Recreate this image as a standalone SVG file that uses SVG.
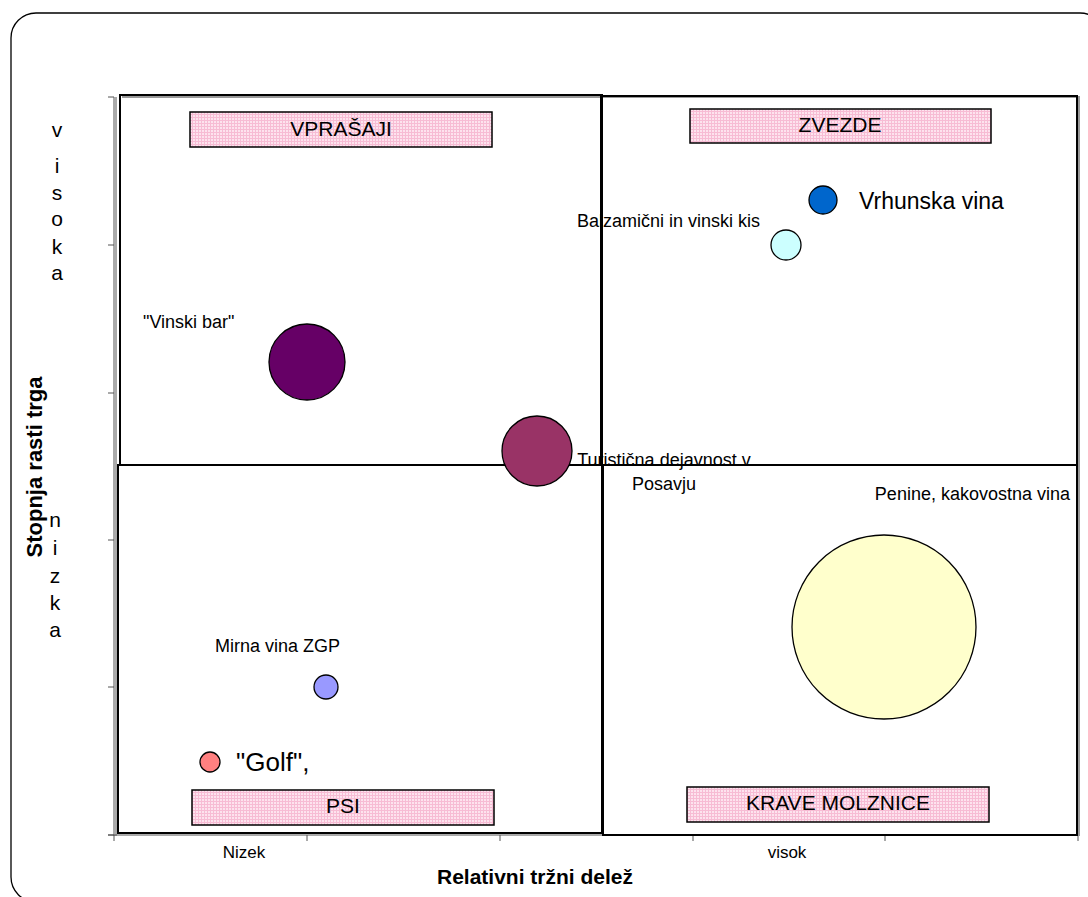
<svg xmlns="http://www.w3.org/2000/svg" width="1088" height="897" viewBox="0 0 1088 897">
<style>
.t{font-family:"Liberation Sans",Arial,sans-serif;fill:#000}
.q{fill:none;stroke:#000;stroke-width:2}
.sh{fill:none;stroke:#999;stroke-width:2}
.lab{fill:url(#pink);stroke:#000;stroke-width:1.5}
.b{stroke:#000;stroke-width:1.3}
.ax{stroke:#555;stroke-width:1}
</style>
<defs>
<pattern id="pink" width="3" height="3" patternUnits="userSpaceOnUse">
<rect width="3" height="3" fill="#fde3ee"/>
<path d="M0 0.5H3M0.5 0V3" stroke="#f7bcd4" stroke-width="1"/>
</pattern>
</defs>
<rect width="1088" height="897" fill="#fff"/>
<rect x="11" y="13" width="1094" height="889" rx="25" fill="none" stroke="#000" stroke-width="1.3"/>

<g id="axes">
<line class="ax" x1="114" y1="97" x2="114" y2="836"/>
<line class="ax" x1="116" y1="97" x2="116" y2="836"/>
<line class="ax" x1="108" y1="835" x2="1078" y2="835"/>
<path class="ax" d="M108 97H114M108 245H114M108 393H114M108 540H114M108 687H114M108 835H114"/>
<path class="ax" d="M114 835V841M307 835V841M500 835V841M693 835V841M885 835V841M1078 835V841"/>
</g>

<g id="quadrants">
<path class="sh" d="M122 97H602M603 97H1079V836"/>
<rect class="q" x="120" y="95" width="482" height="370"/>
<rect class="q" x="601" y="96" width="476" height="369"/>
<rect class="q" x="118" y="465" width="484" height="368"/>
<rect class="q" x="603" y="465" width="474" height="370"/>
</g>

<g id="labels">
<g id="vprasaji"><rect class="lab" x="190" y="112" width="302" height="35"/><text class="t" x="341" y="136" font-size="21" text-anchor="middle">VPRAŠAJI</text></g>
<g id="zvezde"><rect class="lab" x="690" y="109" width="301" height="34"/><text class="t" x="840" y="132" font-size="21" text-anchor="middle">ZVEZDE</text></g>
<g id="psi"><rect class="lab" x="192" y="790" width="302" height="35"/><text class="t" x="343" y="813" font-size="21" text-anchor="middle">PSI</text></g>
<g id="krave"><rect class="lab" x="687" y="787" width="302" height="35"/><text class="t" x="838" y="810" font-size="21" text-anchor="middle">KRAVE MOLZNICE</text></g>
</g>

<g id="bubbles">
<g id="vrhunska"><circle class="b" cx="823" cy="200" r="14" fill="#0066cc"/><text class="t" x="859" y="209" font-size="23">Vrhunska vina</text></g>
<g id="balzamicni"><circle class="b" cx="786" cy="245" r="15" fill="#ccffff"/><text class="t" x="577" y="227" font-size="18">Balzamični in vinski kis</text></g>
<g id="vinskibar"><circle class="b" cx="307" cy="362" r="38" fill="#660066"/><text class="t" x="143" y="328" font-size="18">"Vinski bar"</text></g>
<g id="turisticna"><circle class="b" cx="537" cy="451" r="35" fill="#993366"/><text class="t" x="664" y="466" font-size="18" text-anchor="middle">Turistična dejavnost v</text><text class="t" x="664" y="490" font-size="18" text-anchor="middle">Posavju</text></g>
<g id="penine"><circle class="b" cx="884" cy="627" r="92" fill="#ffffcc"/><text class="t" x="1070" y="500" font-size="18" text-anchor="end">Penine, kakovostna vina</text></g>
<g id="mirna"><circle class="b" cx="326" cy="687" r="12" fill="#9999ff"/><text class="t" x="215" y="652" font-size="18">Mirna vina ZGP</text></g>
<g id="golf"><circle class="b" cx="210" cy="762" r="10" fill="#ff8080"/><text class="t" x="236" y="771" font-size="26">"Golf",</text></g>
</g>

<g id="axislabels">
<g class="t" font-size="21" text-anchor="middle">
<text x="57" y="137">v</text><text x="57" y="173">i</text><text x="57" y="200">s</text><text x="57" y="226">o</text><text x="57" y="254">k</text><text x="57" y="280">a</text>
<text x="55" y="527">n</text><text x="55" y="555">i</text><text x="55" y="583">z</text><text x="55" y="610">k</text><text x="55" y="637">a</text>
</g>
<text class="t" x="0" y="0" font-size="22" font-weight="bold" text-anchor="middle" transform="translate(42 467) rotate(-90)">Stopnja rasti trga</text>
<text class="t" x="535" y="884" font-size="21" font-weight="bold" text-anchor="middle">Relativni tržni delež</text>
<text class="t" x="244" y="858" font-size="17" text-anchor="middle">Nizek</text>
<text class="t" x="787" y="858" font-size="17" text-anchor="middle">visok</text>
</g>
</svg>
